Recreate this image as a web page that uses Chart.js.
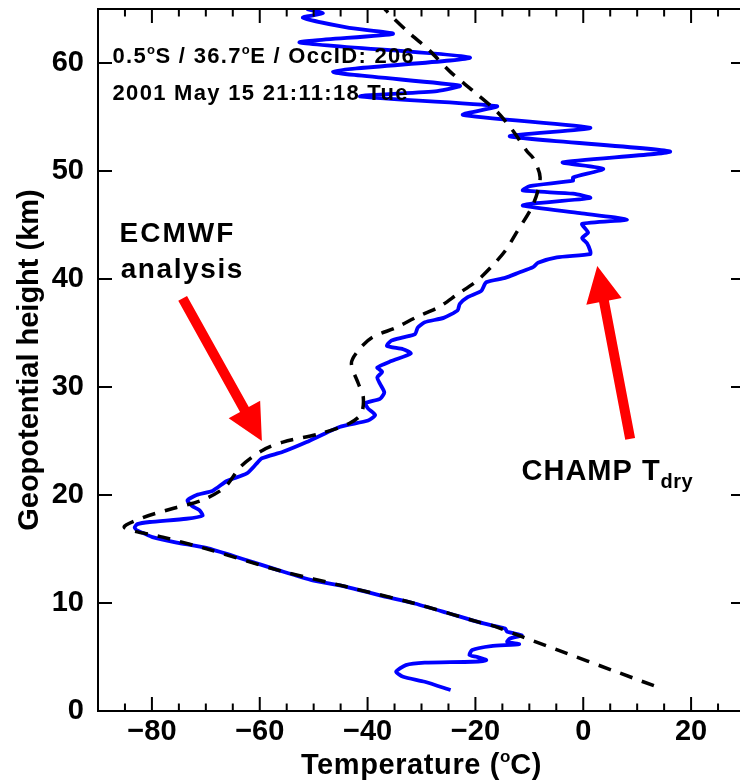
<!DOCTYPE html>
<html>
<head>
<meta charset="utf-8">
<script src="https://cdn.jsdelivr.net/npm/chart.js@4.4.1/dist/chart.umd.min.js"></script>
<style>
html, body { margin: 0; padding: 0; background: #fff; overflow: hidden; }
#wrap { width: 740px; height: 784px; overflow: hidden; }
</style>
</head>
<body>
<div id="wrap"><canvas id="c" width="760" height="784"></canvas></div>
<script>
// CHAMP dry temperature profile (km, deg C)
var champHeight = [1.94,2.71,3.17,3.64,4.25,4.47,4.56,4.71,5.02,5.18,
  5.64,6.0,6.19,6.41,6.72,7.02,7.33,7.64,7.86,8.2,
  9.1,10.0,10.7,11.5,12.1,13.0,14.1,15.1,15.6,16.1,
  16.5,16.7,17.0,17.3,17.5,17.8,18.1,18.6,19.0,19.5,
  20.0,20.4,21.3,22.0,22.9,23.4,24.0,24.9,26.3,26.9,
  27.4,28.0,28.5,28.9,29.5,30.3,30.9,31.4,31.8,32.4,
  33.1,33.5,33.8,34.3,34.6,34.9,35.5,36.0,36.4,37.1,
  37.7,38.3,38.9,39.7,40.1,40.6,41.1,41.5,42.0,42.3,
  42.6,43.3,43.8,44.3,45.1,45.5,46.1,46.8,47.0,47.5,
  47.9,48.2,48.6,49.1,49.4,50.2,50.8,51.8,53.2,54.0,
  55.2,56.0,56.9,57.4,57.9,59.2,60.5,61.9,62.7,63.3,
  64.2,64.6,65.0];
var champTemp = [-24.6,-29.4,-33.4,-34.7,-32.9,-29.4,-20.6,-18.0,-19.8,-21.1,
  -20.6,-17.1,-11.9,-14.1,-13.6,-11.4,-14.1,-14.5,-16.3,-19.2,
  -25.3,-31.6,-37.7,-43.9,-50.2,-56.3,-63.3,-69.9,-75.4,-79.9,
  -81.7,-82.7,-83.2,-82.7,-80.4,-73.6,-70.6,-71.2,-72.6,-73.4,
  -71.7,-68.7,-66.1,-62.4,-60.6,-59.6,-55.7,-51.3,-45.2,-39.9,
  -38.6,-39.9,-40.4,-37.7,-36.9,-37.7,-38.2,-37.3,-38.2,-35.6,
  -32.0,-33.4,-36.4,-35.6,-33.4,-31.2,-30.7,-29.4,-25.9,-23.3,
  -22.9,-21.5,-18.9,-18.0,-14.5,-11.9,-9.3,-8.4,-4.9,1.3,
  1.3,0.7,-0.2,0.9,-0.2,8.1,-0.6,-11.2,-9.3,1.3,
  -1.9,-11.2,-9.9,-1.9,-1.9,3.7,-3.8,16.1,-13.6,1.3,
  -22.3,-16.0,-41.4,-27.1,-22.9,-46.4,-21.0,-52.6,-35.3,-43.9,
  -52.0,-48.3,-51.3];

// ECMWF analysis profile (dashed)
var ecmwfHeight = [2.34,6.9,7.95,8.2,10.0,11.5,13.0,15.1,16.1,17.0,
  17.9,18.8,19.5,20.7,22.6,24.1,24.9,25.7,26.6,27.5,
  29.05,30.3,32.2,33.4,34.6,35.5,36.4,37.4,38.6,39.8,
  41.1,42.6,44.2,46.9,49.4,51.2,51.8,53.7,55.5,57.4,
  59.2,61.1,62.7,64.5,65.0];
var ecmwfTemp = [13.1,-11.5,-17.1,-19.2,-31.6,-43.9,-56.3,-70.5,-78.0,-85.1,
  -81.7,-75.8,-70.8,-66.5,-63.6,-59.6,-55.7,-48.7,-43.5,-41.2,
  -40.8,-41.7,-43.0,-41.7,-39.1,-34.7,-31.2,-26.8,-23.3,-19.8,
  -17.1,-14.5,-12.5,-9.3,-8.0,-9.3,-10.4,-13.0,-16.0,-20.4,
  -24.7,-28.4,-32.1,-35.9,-36.8];

var xTickValues = [-80, -60, -40, -20, 0, 20];
var xMinorValues = [-85, -75, -70, -65, -55, -50, -45, -35, -30, -25, -15, -10, -5, 5, 10, 15, 25];
var yTickValues = [0, 10, 20, 30, 40, 50, 60];

var FONT = '"Liberation Sans", Arial, Helvetica, sans-serif';

function pts(hs, ts) {
  var out = [];
  for (var i = 0; i < hs.length; i++) out.push({x: ts[i], y: hs[i]});
  return out;
}

// draw a line of text made of pieces, some raised or lowered
function drawRich(ctx, parts, x, y) {
  var cx = x;
  parts.forEach(function(p) {
    ctx.font = 'bold ' + p.size + 'px ' + FONT;
    ctx.letterSpacing = (p.ls || 0) + 'px';
    ctx.fillText(p.t, cx, y + (p.dy || 0));
    cx += ctx.measureText(p.t).width;
  });
  ctx.letterSpacing = '0px';
}
function richWidth(ctx, parts) {
  var w = 0;
  parts.forEach(function(p) {
    ctx.font = 'bold ' + p.size + 'px ' + FONT;
    ctx.letterSpacing = (p.ls || 0) + 'px';
    w += ctx.measureText(p.t).width;
  });
  ctx.letterSpacing = '0px';
  return w;
}

function arrow(ctx, x0, y0, x1, y1) {
  var dx = x1 - x0, dy = y1 - y0;
  var len = Math.sqrt(dx * dx + dy * dy);
  var ux = dx / len, uy = dy / len, nx = -uy, ny = ux;
  var head = 36, hw = 18, sw = 5;
  var bx = x1 - ux * head, by = y1 - uy * head;
  ctx.beginPath();
  ctx.moveTo(x0 + nx * sw, y0 + ny * sw);
  ctx.lineTo(bx + nx * sw, by + ny * sw);
  ctx.lineTo(bx + nx * hw, by + ny * hw);
  ctx.lineTo(x1, y1);
  ctx.lineTo(bx - nx * hw, by - ny * hw);
  ctx.lineTo(bx - nx * sw, by - ny * sw);
  ctx.lineTo(x0 - nx * sw, y0 - ny * sw);
  ctx.closePath();
  ctx.fill();
}

var decor = {
  id: 'decor',
  afterDraw: function(chart) {
    var ctx = chart.ctx, a = chart.chartArea;
    var sx = chart.scales.x, sy = chart.scales.y;
    ctx.save();
    ctx.strokeStyle = '#000';
    ctx.lineWidth = 2;
    ctx.strokeRect(a.left, a.top, a.right - a.left, a.bottom - a.top);
    ctx.beginPath();
    xTickValues.forEach(function(v) {
      var p = sx.getPixelForValue(v);
      ctx.moveTo(p, a.bottom); ctx.lineTo(p, a.bottom - 14);
      ctx.moveTo(p, a.top); ctx.lineTo(p, a.top + 14);
    });
    xMinorValues.forEach(function(v) {
      var p = sx.getPixelForValue(v);
      ctx.moveTo(p, a.bottom); ctx.lineTo(p, a.bottom - 7.5);
      ctx.moveTo(p, a.top); ctx.lineTo(p, a.top + 7.5);
    });
    yTickValues.forEach(function(v) {
      var p = sy.getPixelForValue(v);
      ctx.moveTo(a.left, p); ctx.lineTo(a.left + 14, p);
      ctx.moveTo(a.right, p); ctx.lineTo(a.right - 14, p);
    });
    ctx.stroke();

    // red arrows
    ctx.fillStyle = '#ff0000';
    arrow(ctx, sx.getPixelForValue(-74.3), sy.getPixelForValue(38.2),
               sx.getPixelForValue(-59.6), sy.getPixelForValue(25.0));
    arrow(ctx, sx.getPixelForValue(8.7), sy.getPixelForValue(25.2),
               sx.getPixelForValue(2.6), sy.getPixelForValue(41.2));

    // annotations
    ctx.fillStyle = '#000';
    ctx.textBaseline = 'alphabetic';
    ctx.textAlign = 'left';
    drawRich(ctx, [
      {t: '0.5', size: 22, ls: 1.3}, {t: 'o', size: 13, dy: -9, ls: 0.5},
      {t: 'S / 36.7', size: 22, ls: 1.3}, {t: 'o', size: 13, dy: -9, ls: 0.5},
      {t: 'E / OccID: 206', size: 22, ls: 1.3}
    ], sx.getPixelForValue(-87.3), sy.getPixelForValue(60.0));
    drawRich(ctx, [{t: '2001 May 15 21:11:18 Tue', size: 22, ls: 1.3}],
      sx.getPixelForValue(-87.3), sy.getPixelForValue(56.56));
    drawRich(ctx, [{t: 'ECMWF', size: 28, ls: 2}],
      sx.getPixelForValue(-86.0), sy.getPixelForValue(43.4));
    drawRich(ctx, [{t: 'analysis', size: 28, ls: 1.6}],
      sx.getPixelForValue(-85.8), sy.getPixelForValue(40.1));
    drawRich(ctx, [{t: 'CHAMP T', size: 29, ls: 1}, {t: 'dry', size: 20, dy: 8, ls: 0.5}],
      sx.getPixelForValue(-11.45), sy.getPixelForValue(21.35));

    // axis titles
    var xt = [{t: 'Temperature (', size: 29, ls: 0.6}, {t: 'o', size: 17, dy: -12},
              {t: 'C)', size: 29, ls: 0.6}];
    var w = richWidth(ctx, xt);
    drawRich(ctx, xt, (a.left + a.right) / 2 - w / 2, a.bottom + 63);
    ctx.translate(38, (a.top + a.bottom) / 2);
    ctx.rotate(-Math.PI / 2);
    var yt = [{t: 'Geopotential height (km)', size: 29, ls: 0}];
    var wy = richWidth(ctx, yt);
    drawRich(ctx, yt, -wy / 2, 0);
    ctx.restore();
  }
};

var tickFont = {family: FONT, size: 29, weight: 'bold'};

new Chart(document.getElementById('c'), {
  type: 'scatter',
  data: {
    datasets: [
      {
        label: 'CHAMP Tdry',
        data: pts(champHeight, champTemp),
        showLine: true,
        borderColor: '#0000ff',
        borderWidth: 3.8,
        pointRadius: 0,
        tension: 0.2,
        order: 2
      },
      {
        label: 'ECMWF analysis',
        data: pts(ecmwfHeight, ecmwfTemp),
        showLine: true,
        borderColor: '#000000',
        borderWidth: 3.5,
        borderDash: [13, 10],
        pointRadius: 0,
        tension: 0.3,
        order: 1
      }
    ]
  },
  options: {
    responsive: false,
    animation: false,
    devicePixelRatio: 1,
    layout: {padding: {top: 9, right: 15, left: 0, bottom: 0}},
    plugins: {legend: {display: false}, tooltip: {enabled: false}},
    scales: {
      x: {
        type: 'linear', min: -90, max: 30,
        grid: {display: false}, border: {display: false},
        afterBuildTicks: function(s) { s.ticks = xTickValues.map(function(v) { return {value: v}; }); },
        afterFit: function(s) { s.height = 73; s.paddingLeft = 0; s.paddingRight = 0; },
        ticks: {
          color: '#000', font: tickFont, padding: -4, maxRotation: 0,
          callback: function(v) { return v < 0 ? '\u2212' + Math.abs(v) : String(v); }
        }
      },
      y: {
        type: 'linear', min: 0, max: 65,
        grid: {display: false}, border: {display: false},
        afterBuildTicks: function(s) { s.ticks = yTickValues.map(function(v) { return {value: v}; }); },
        afterFit: function(s) { s.width = 98; s.paddingTop = 0; s.paddingBottom = 0; },
        ticks: {color: '#000', font: tickFont, padding: 6}
      }
    }
  },
  plugins: [decor]
});
</script>
</body>
</html>
